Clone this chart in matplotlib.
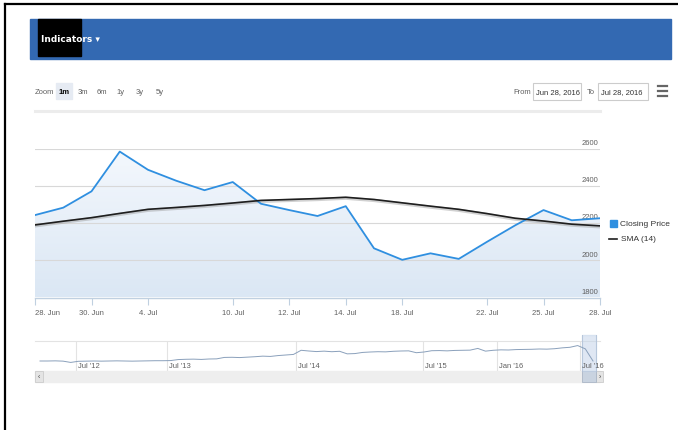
import numpy as np
import matplotlib
matplotlib.use("Agg")
import matplotlib.pyplot as plt
from matplotlib.patches import Rectangle, Polygon
from matplotlib.colors import LinearSegmentedColormap

plt.rcParams['font.family'] = ['Liberation Sans Narrow', 'Liberation Sans', 'DejaVu Sans']

# daily closes for the 1m window and the 14 day moving average
close = [2244, 2284, 2372, 2586, 2488, 2429, 2378, 2422, 2305, 2271, 2239,
         2292, 2065, 2003, 2038, 2008, 2100, 2189, 2271, 2216, 2227]
sma14 = [2191, 2211, 2230, 2253, 2275, 2285, 2296, 2309, 2323, 2328, 2333,
         2340, 2328, 2310, 2292, 2275, 2252, 2227, 2212, 2195, 2186]
tick_idx = [0, 2, 4, 7, 9, 11, 13, 16, 18, 20]
tick_labels = ['28. Jun', '30. Jun', '4. Jul', '10. Jul', '12. Jul', '14. Jul',
               '18. Jul', '22. Jul', '25. Jul', '28. Jul']
y_ticks = [1800, 2000, 2200, 2400, 2600]

# full history for the navigator strip
nav_vals = [1300, 1300, 1310, 1290, 1200, 1280,
            1290, 1300, 1290, 1300, 1310, 1300, 1290, 1300, 1310, 1320, 1320, 1330,
            1400, 1420, 1430, 1410, 1440, 1450, 1550, 1560, 1540, 1570,
            1600, 1640, 1620, 1680, 1720, 1760, 2050, 2000, 1960, 1990, 1950, 1980,
            1800, 1820, 1900, 1930, 1950, 1940, 1980, 2000, 2010, 1880, 1930,
            2020, 2030, 2010, 2040, 2050, 2060, 2180, 1990,
            2050, 2080, 2070, 2100, 2110, 2120, 2140, 2130, 2160,
            2220, 2260, 2380, 2150, 1300]
nav_tick_idx = [4.7, 16.5, 33.3, 49.9, 59.5, 70.3]
nav_labels = ["Jul '12", "Jul '13", "Jul '14", "Jul '15", "Jan '16", "Jul '16"]

zoom_buttons = ['1m', '3m', '6m', '1y', '3y', '5y']

W, H = 678, 431
fig = plt.figure(figsize=(W / 100, H / 100), dpi=100)

# pixel-space canvas for the page chrome
bg = fig.add_axes([0, 0, 1, 1])
bg.set_xlim(0, W)
bg.set_ylim(H, 0)
bg.axis('off')


def px_axes(x0, y0, x1, y1):
    return fig.add_axes([x0 / W, 1 - y1 / H, (x1 - x0) / W, (y1 - y0) / H])


grey = '#606060'
fs = 5.5

# frame
bg.plot([5, 5], [5, H], color='black', lw=1.6)
bg.plot([5, W], [5, 5], color='black', lw=1.6)

# header bar with the indicators menu
bg.add_patch(Rectangle((30, 20), 641, 40, color='#3369b2'))
bg.add_patch(Rectangle((38, 20), 43, 37, color='black'))
bg.text(41, 39, 'Indicators \u25be', color='white', fontsize=6.5, va='center',
        fontweight='bold', family=['Liberation Sans Narrow', 'DejaVu Sans'])

# range selector
bg.text(35, 92, 'Zoom', fontsize=fs, color=grey, va='center')
btn_x = [64, 83, 102, 121, 140, 160]
bg.add_patch(Rectangle((56, 84), 16, 16, color='#e6ebf3'))
for bx, lbl in zip(btn_x, zoom_buttons):
    sel = lbl == '1m'
    bg.text(bx, 92, lbl, fontsize=fs, ha='center', va='center',
            color='black' if sel else grey, fontweight='bold' if sel else 'normal')

bg.text(513, 92, 'From', fontsize=fs, color=grey, va='center')
bg.add_patch(Rectangle((533, 84), 48, 17, fc='white', ec='#cccccc', lw=0.8))
bg.text(536, 92.5, 'Jun 28, 2016', fontsize=fs, color='#333333', va='center')
bg.text(587, 92, 'To', fontsize=fs, color=grey, va='center')
bg.add_patch(Rectangle((598, 84), 50, 17, fc='white', ec='#cccccc', lw=0.8))
bg.text(601, 92.5, 'Jul 28, 2016', fontsize=fs, color='#333333', va='center')
for yy in [87, 92, 97]:
    bg.plot([658, 667], [yy, yy], color='#666666', lw=1.6)

bg.plot([35, 600], [111.5, 111.5], color='#ececec', lw=2.2)

# main price chart
ax = px_axes(35, 150, 600, 298.5)
ax.patch.set_alpha(0)
x = np.arange(len(close))
ax.set_xlim(0, len(close) - 1)
ax.set_ylim(y_ticks[0], y_ticks[-1])
for s in ['top', 'left', 'right']:
    ax.spines[s].set_visible(False)
ax.spines['bottom'].set_color('#c0d0e0')
ax.spines['bottom'].set_linewidth(1)
for v in y_ticks[1:]:
    ax.axhline(v, color='#d8d8d8', lw=0.8, zorder=1)
ax.set_yticks([])
for v in y_ticks:
    ax.annotate(str(v), (len(close) - 1, v), xytext=(-1, 2), textcoords='offset points',
                ha='right', va='bottom', fontsize=fs, color=grey, zorder=2,
                annotation_clip=False)

# gradient fill under the closing price
cmap = LinearSegmentedColormap.from_list('fill', ['#dbe7f4', '#f4f8fd'])
grad = np.linspace(0, 1, 256).reshape(-1, 1)
im = ax.imshow(grad, cmap=cmap, aspect='auto', origin='lower',
               extent=[0, len(close) - 1, y_ticks[0], y_ticks[-1]], zorder=0)
verts = [(0, y_ticks[0])] + list(zip(x, close)) + [(len(close) - 1, y_ticks[0])]
clip = Polygon(verts, closed=True, fc='none', ec='none')
ax.add_patch(clip)
im.set_clip_path(clip)

ax.plot(x, close, color='#2f8fe0', lw=1.3, zorder=4)
ax.plot(x, np.array(sma14) - 5, color='#9a9a9a', lw=2.4, alpha=0.45, zorder=3)
ax.plot(x, sma14, color='#1e1e1e', lw=1.2, zorder=5)

ax.set_xticks(tick_idx, tick_labels)
ax.tick_params(axis='x', length=5, color='#c0d0e0', labelsize=fs, labelcolor=grey, pad=3)
ax.get_xticklabels()[0].set_ha('left')

# legend
bg.add_patch(Rectangle((610, 221), 7, 7, color='#2f8fe0'))
bg.text(620, 225, 'Closing Price', fontsize=6, color='#333333', va='center')
bg.plot([609, 617], [240, 240], color='#1e1e1e', lw=1.2)
bg.text(621, 240, 'SMA (14)', fontsize=6, color='#333333', va='center')

# navigator
nav = px_axes(35, 342, 600, 372)
nav.patch.set_alpha(0)
n = len(nav_vals)
step = (593 - 40) / (n - 1)
nav.set_xlim(-5 / step, n - 1 + 7 / step)
nav.set_ylim(600, 2700)
nav.axis('off')
for p in nav_tick_idx:
    nav.axvline(p, color='#e3e3e3', lw=0.8, zorder=0)
nav.plot(np.arange(n), nav_vals, color='#8aa0bb', lw=0.7, zorder=2)
for p, lbl in zip(nav_tick_idx, nav_labels):
    nav.annotate(lbl, (p, 600), xytext=(1.5, 1.5), textcoords='offset points',
                 ha='left', va='bottom', fontsize=fs, color=grey, annotation_clip=False)
bg.plot([35, 600], [342, 342], color='#e3e3e3', lw=0.8)

# selected window and scrollbar
bg.add_patch(Rectangle((582, 336), 14, 36, color='#c5d5ea', alpha=0.55, zorder=3))
bg.plot([582, 582], [336, 372], color='#8c9cb3', lw=0.6)
bg.plot([596, 596], [336, 372], color='#8c9cb3', lw=0.6)
bg.add_patch(Rectangle((35, 372), 565, 11, color='#eeeeee'))
bg.add_patch(Rectangle((35, 372), 8, 11, fc='#e4e4e4', ec='#cccccc', lw=0.6))
bg.text(39, 377.5, '\u2039', fontsize=5, color='#444444', ha='center', va='center')
bg.add_patch(Rectangle((596, 372), 7, 11, fc='#e4e4e4', ec='#cccccc', lw=0.6))
bg.text(599.5, 377.5, '\u203a', fontsize=5, color='#444444', ha='center', va='center')
bg.add_patch(Rectangle((582, 372), 14, 11, fc='#c9d3e0', ec='#aab6c6', lw=0.6))

fig.savefig('out.png', dpi=100)
